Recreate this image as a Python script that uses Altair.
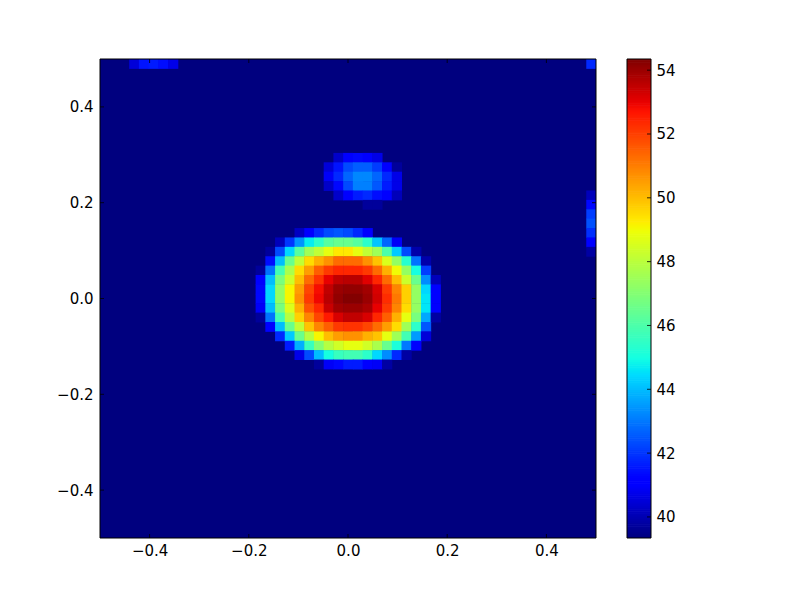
import altair as alt
import pandas as pd
import numpy as np

VMIN, VMAX = 39.34, 54.35
N = 51
# (row from the top, first column, cell values)
ROW_00A = (0, 3, [40.5, 41.5, 41.6, 41.4, 40.7])
ROW_00B = (0, 50, [41.8])
ROW_10 = (10, 24, [40.3, 41.0, 41.3, 41.1, 40.7])
ROW_11 = (11, 23, [40.5, 41.5, 42.3, 42.6, 42.6, 42.1, 41.0, 39.7])
ROW_12 = (12, 23, [40.9, 41.8, 42.7, 43.2, 43.2, 42.7, 41.8, 40.7])
ROW_13 = (13, 23, [40.3, 41.3, 42.3, 43.1, 43.1, 42.5, 41.6, 40.7])
ROW_14 = (14, 24, [40.3, 41.0, 41.6, 41.8, 41.4, 41.0, 40.1])
ROW_15 = (15, 27, [39.7, 39.7])
EDGE_14 = (14, 50, [40.1])
EDGE_15 = (15, 50, [41.3])
EDGE_16 = (16, 50, [42.1])
EDGE_17 = (17, 50, [42.4])
EDGE_18 = (18, 50, [41.9])
EDGE_19 = (19, 50, [41.0])
EDGE_20 = (20, 50, [39.8])
ROW_18 = (18, 20, [40.2, 41.0, 41.8, 42.3, 42.5, 42.3, 41.8, 41.0])
ROW_19 = (19, 18, [40.1, 42.0, 43.4, 44.7, 45.4, 46.2, 46.5, 46.5, 46.2, 45.4, 44.1, 42.7, 40.9])
ROW_20 = (20, 17, [39.7, 42.3, 44.4, 46.2, 47.5, 48.1, 48.8, 49.3, 49.3, 48.8, 48.1, 47.5, 46.0, 44.2, 42.3, 39.9])
ROW_21 = (21, 17, [41.4, 44.0, 46.5, 48.1, 49.5, 50.2, 50.7, 51.3, 51.3, 51.3, 50.7, 49.9, 48.6, 47.3, 45.3, 42.9, 39.9])
ROW_22 = (22, 16, [39.7, 42.9, 45.8, 47.7, 49.5, 50.5, 51.5, 52.1, 52.4, 52.4, 52.4, 52.1, 51.3, 50.2, 49.0, 47.3, 45.0, 42.1])
ROW_23 = (23, 16, [41.0, 44.0, 46.8, 48.3, 50.0, 51.3, 52.2, 53.0, 53.5, 53.6, 53.6, 53.1, 52.4, 51.3, 50.0, 48.3, 46.5, 43.3, 40.1])
ROW_24 = (24, 16, [41.3, 44.4, 47.3, 49.1, 50.5, 51.9, 52.8, 53.5, 54.0, 54.1, 54.1, 53.9, 53.2, 52.1, 50.9, 49.7, 47.3, 44.4, 41.0])
ROW_25 = (25, 16, [41.3, 44.4, 47.3, 49.1, 50.7, 52.1, 52.9, 53.6, 54.1, 54.3, 54.3, 54.0, 53.3, 52.3, 51.1, 49.7, 47.3, 44.6, 41.0])
ROW_26 = (26, 16, [40.9, 44.0, 46.8, 48.6, 50.2, 51.7, 52.4, 53.4, 53.9, 54.0, 54.0, 53.8, 53.0, 52.1, 50.9, 49.5, 47.3, 44.6, 41.0])
ROW_27 = (27, 16, [39.7, 42.9, 45.8, 47.9, 49.7, 50.9, 51.9, 52.6, 53.2, 53.5, 53.5, 53.2, 52.4, 51.5, 50.2, 48.8, 46.8, 43.7, 39.8])
ROW_28 = (28, 17, [41.0, 44.0, 46.5, 48.1, 49.9, 50.9, 51.5, 52.1, 52.2, 52.2, 51.9, 51.3, 50.5, 49.5, 47.5, 45.4, 42.5])
ROW_29 = (29, 18, [41.8, 44.2, 46.5, 47.9, 49.1, 50.0, 50.5, 50.7, 50.7, 50.2, 49.9, 48.8, 47.5, 45.8, 43.5, 40.5])
ROW_30 = (30, 19, [41.6, 43.8, 45.6, 47.0, 47.9, 48.4, 48.8, 48.8, 48.4, 47.7, 46.5, 45.1, 43.0, 41.0])
ROW_31 = (31, 20, [40.7, 42.3, 44.0, 45.0, 45.6, 45.8, 45.8, 45.4, 44.4, 43.3, 41.8, 39.8])
ROW_32 = (32, 22, [39.7, 40.9, 41.3, 41.6, 41.6, 41.0, 40.9, 39.8])
ROWS = [ROW_00A, ROW_00B, ROW_10, ROW_11, ROW_12, ROW_13, ROW_14, ROW_15,
        EDGE_14, EDGE_15, EDGE_16, EDGE_17, EDGE_18, EDGE_19, EDGE_20,
        ROW_18, ROW_19, ROW_20, ROW_21, ROW_22, ROW_23, ROW_24, ROW_25,
        ROW_26, ROW_27, ROW_28, ROW_29, ROW_30, ROW_31, ROW_32]

JET_STOPS = [0, .11, .125, .34, .35, .375, .64, .65, .66, .89, .91, 1]
JET_COLORS = ["#00007f", "#0000ff", "#0000ff", "#00dbff", "#00e6f7", "#14ffe2",
              "#eeff08", "#f7f600", "#ffec00", "#ff1300", "#e80000", "#7f0000"]
POS_TICKS = [-0.4, -0.2, 0.0, 0.2, 0.4]
BAR_TICKS = [40, 42, 44, 46, 48, 50, 52, 54]

# one cell for the flat floor of the field, then the cells that rise above it;
# each runs slightly into its right and lower neighbours, which are drawn later
LAP = 0.001
records = [{"x0": -0.5, "x1": 0.5, "y0": -0.5, "y1": 0.5, "v": VMIN}]
for r, c0, vals in sorted(ROWS, key=lambda t: (t[0], t[1])):
    for k, v in enumerate(vals):
        c = c0 + k
        records.append({"x0": -0.5 + c / N, "x1": min(0.5, -0.5 + (c + 1) / N + LAP),
                        "y1": 0.5 - r / N, "y0": max(-0.5, 0.5 - (r + 1) / N - LAP), "v": v})
cells = pd.DataFrame(records)

color = alt.Scale(domain=[VMIN + s * (VMAX - VMIN) for s in JET_STOPS],
                  range=JET_COLORS, interpolate="rgb", clamp=True)
FONT = "DejaVu Sans"
FS = 15
W, H = 496, 479
BW = 24
sx = alt.Scale(domain=[-0.5, 0.5], nice=False, zero=False)
sy = alt.Scale(domain=[-0.5, 0.5], nice=False, zero=False)
axis_common = dict(grid=False, domain=False, ticks=False, tickSize=0, labelFont=FONT,
                   labelFontSize=FS, labelColor="black", title=None, format=".1f",
                   values=POS_TICKS)

heat = alt.Chart(cells).mark_rect().encode(
    x=alt.X("x0:Q", scale=sx, axis=alt.Axis(labelPadding=5, **axis_common)),
    x2="x1:Q",
    y=alt.Y("y0:Q", scale=sy, axis=alt.Axis(labelPadding=7, minExtent=40, maxExtent=40, **axis_common)),
    y2="y1:Q",
    color=alt.Color("v:Q", scale=color, legend=None),
)
tx = pd.DataFrame({"t": POS_TICKS})
TL = 4
def xticks(a, b):
    return alt.Chart(tx).mark_rule(color="black", strokeWidth=0.8).encode(
        x=alt.X("t:Q", scale=sx), y=alt.value(a), y2=alt.value(b))
def yticks(a, b):
    return alt.Chart(tx).mark_rule(color="black", strokeWidth=0.8).encode(
        y=alt.Y("t:Q", scale=sy), x=alt.value(a), x2=alt.value(b))
def frame(w):
    return alt.Chart(tx.head(1)).mark_rect(fillOpacity=0, stroke="black", strokeWidth=1).encode(
        x=alt.value(0), x2=alt.value(w), y=alt.value(0), y2=alt.value(H))

main = alt.layer(heat, xticks(0, TL), xticks(H - TL, H), yticks(0, TL), yticks(W - TL, W),
                 frame(W)).properties(width=W, height=H)

levels = np.linspace(VMIN, VMAX, 257)
bar_df = pd.DataFrame({"a": levels[:-1], "b": np.minimum(levels[1:] + 0.02, VMAX),
                       "v": (levels[:-1] + levels[1:]) / 2})
bs = alt.Scale(domain=[VMIN, VMAX], nice=False, zero=False)
bar_rect = alt.Chart(bar_df).mark_rect().encode(
    x=alt.value(0), x2=alt.value(BW),
    y=alt.Y("a:Q", scale=bs, axis=alt.Axis(orient="right", values=BAR_TICKS, format="d", grid=False,
            domain=False, ticks=False, tickSize=0, labelPadding=5, labelFont=FONT,
            labelFontSize=FS, labelColor="black", title=None)),
    y2="b:Q",
    color=alt.Color("v:Q", scale=color, legend=None),
)
bar_ticks = alt.Chart(pd.DataFrame({"t": BAR_TICKS})).mark_rule(color="black", strokeWidth=0.8).encode(
    y=alt.Y("t:Q", scale=bs), x=alt.value(BW - TL), x2=alt.value(BW))
bar = alt.layer(bar_rect, bar_ticks, frame(BW)).properties(width=BW, height=H)

chart = alt.hconcat(main, bar, spacing=29).properties(
    padding={"left": 48, "top": 50, "right": 5, "bottom": 5},
    background="white",
).configure_view(stroke=None)

chart.save("out.html", embed_options={"renderer": "svg", "actions": False})
